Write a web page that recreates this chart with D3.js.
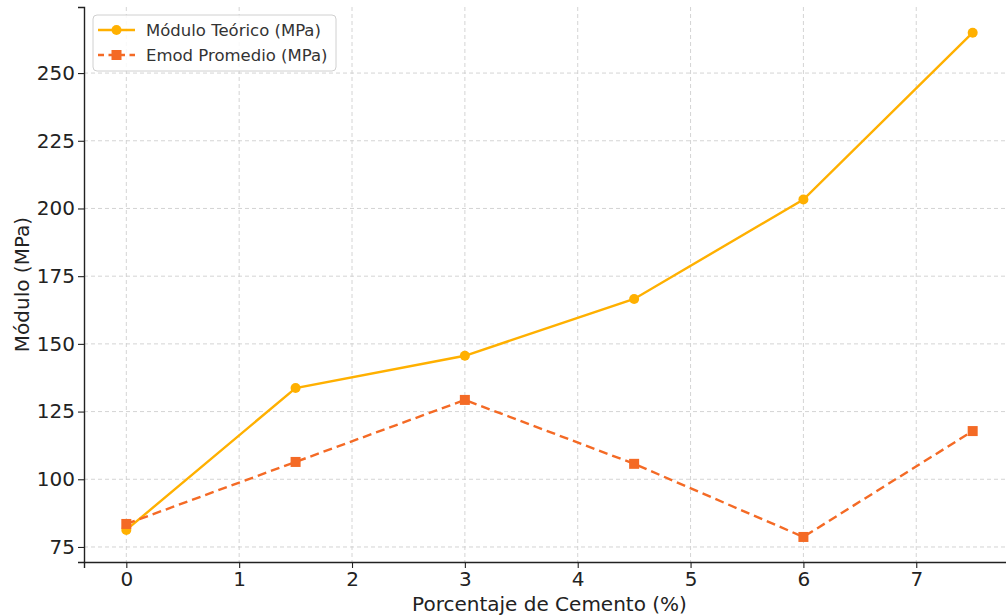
<!DOCTYPE html>
<html>
<head>
<meta charset="utf-8">
<script src="https://cdn.jsdelivr.net/npm/d3@7"></script>
<style>
  body { margin: 0; background: #fff; }
  svg { display: block; font-family: "DejaVu Sans", sans-serif; }
</style>
</head>
<body>
<svg width="1006" height="616"></svg>
<script>
// datos
var porcentajes = [0, 1.5, 3, 4.5, 6, 7.5];
var moduloTeorico = [81.3, 133.7, 145.6, 166.6, 203.3, 264.9];
var emodPromedio = [83.5, 106.4, 129.3, 105.7, 78.7, 117.8];
var xTicks = [0, 1, 2, 3, 4, 5, 6, 7];
var yTicks = [75, 100, 125, 150, 175, 200, 225, 250];
var series = [
  {name: "Módulo Teórico (MPa)", values: moduloTeorico, color: "#FFB000", dash: null, marker: "circle"},
  {name: "Emod Promedio (MPa)", values: emodPromedio, color: "#F46A25", dash: "9,5", marker: "square"}
];

var svg = d3.select("svg"),
    margin = {top: 7, right: -9, bottom: 54, left: 84},
    width = +svg.attr("width") - margin.left - margin.right,
    height = +svg.attr("height") - margin.top - margin.bottom;

var x = d3.scaleLinear().domain([-0.375, 7.875]).range([0, width]),
    y = d3.scaleLinear().domain([69.45, 274.4]).range([height, 0]);

var g = svg.append("g")
    .attr("transform", "translate(" + margin.left + "," + margin.top + ")");

// rejilla
g.append("g").selectAll("line")
  .data(xTicks)
  .enter().append("line")
    .attr("x1", function(d) { return x(d); })
    .attr("x2", function(d) { return x(d); })
    .attr("y1", 0).attr("y2", height)
    .attr("stroke", "#cfcfcf").attr("stroke-width", 0.9).attr("stroke-dasharray", "4,3");

g.append("g").selectAll("line")
  .data(yTicks)
  .enter().append("line")
    .attr("x1", 0).attr("x2", width)
    .attr("y1", function(d) { return y(d); })
    .attr("y2", function(d) { return y(d); })
    .attr("stroke", "#cfcfcf").attr("stroke-width", 0.9).attr("stroke-dasharray", "4,3");

// ejes
var xAxis = g.append("g")
    .attr("transform", "translate(0," + height + ")")
    .call(d3.axisBottom(x).tickValues(xTicks).tickFormat(d3.format("d")).tickSizeOuter(0).tickSize(6).tickPadding(4));

var yAxis = g.append("g")
    .call(d3.axisLeft(y).tickValues(yTicks).tickSizeOuter(0).tickSize(6).tickPadding(3));

[xAxis, yAxis].forEach(function(a) {
  a.select(".domain").attr("stroke", "#222").attr("stroke-width", 1.4);
  a.selectAll(".tick line").attr("stroke", "#222").attr("stroke-width", 1.1);
  a.selectAll(".tick text").attr("fill", "#222").style("font-size", "20px")
    .style("font-family", "DejaVu Sans, sans-serif");
});

// etiquetas
svg.append("text")
    .attr("x", margin.left + width / 2)
    .attr("y", 611)
    .attr("text-anchor", "middle")
    .attr("fill", "#222")
    .style("font-size", "20px")
    .text("Porcentaje de Cemento (%)");

svg.append("text")
    .attr("transform", "translate(29," + (margin.top + height / 2) + ") rotate(-90)")
    .attr("text-anchor", "middle")
    .attr("fill", "#222")
    .style("font-size", "20px")
    .text("Módulo (MPa)");

// lineas y marcadores
var line = d3.line()
    .x(function(d, i) { return x(porcentajes[i]); })
    .y(function(d) { return y(d); });

series.forEach(function(s) {
  g.append("path")
      .datum(s.values)
      .attr("fill", "none")
      .attr("stroke", s.color)
      .attr("stroke-width", 2.4)
      .attr("stroke-dasharray", s.dash)
      .attr("d", line);

  if (s.marker === "circle") {
    g.selectAll(".pt-c")
      .data(s.values)
      .enter().append("circle")
        .attr("cx", function(d, i) { return x(porcentajes[i]); })
        .attr("cy", function(d) { return y(d); })
        .attr("r", 5)
        .attr("fill", s.color);
  } else {
    g.selectAll(".pt-s")
      .data(s.values)
      .enter().append("rect")
        .attr("x", function(d, i) { return x(porcentajes[i]) - 5; })
        .attr("y", function(d) { return y(d) - 5; })
        .attr("width", 10).attr("height", 10)
        .attr("fill", s.color);
  }
});

// leyenda
var legend = svg.append("g").attr("transform", "translate(93,15)");
legend.append("rect")
    .attr("width", 243).attr("height", 56)
    .attr("rx", 4)
    .attr("fill", "#fff").attr("fill-opacity", 0.85)
    .attr("stroke", "#d0d0d0");

series.forEach(function(s, i) {
  var row = legend.append("g").attr("transform", "translate(0," + (15 + i * 25) + ")");
  row.append("line")
      .attr("x1", 5).attr("x2", 42)
      .attr("stroke", s.color).attr("stroke-width", 2.4)
      .attr("stroke-dasharray", s.dash ? "6,4.5" : null);
  if (s.marker === "circle") {
    row.append("circle").attr("cx", 23.5).attr("r", 5).attr("fill", s.color);
  } else {
    row.append("rect").attr("x", 18.5).attr("y", -5).attr("width", 10).attr("height", 10).attr("fill", s.color);
  }
  row.append("text")
      .attr("x", 53).attr("dy", "0.35em")
      .attr("fill", "#333")
      .style("font-size", "16.5px")
      .text(s.name);
});
</script>
</body>
</html>
